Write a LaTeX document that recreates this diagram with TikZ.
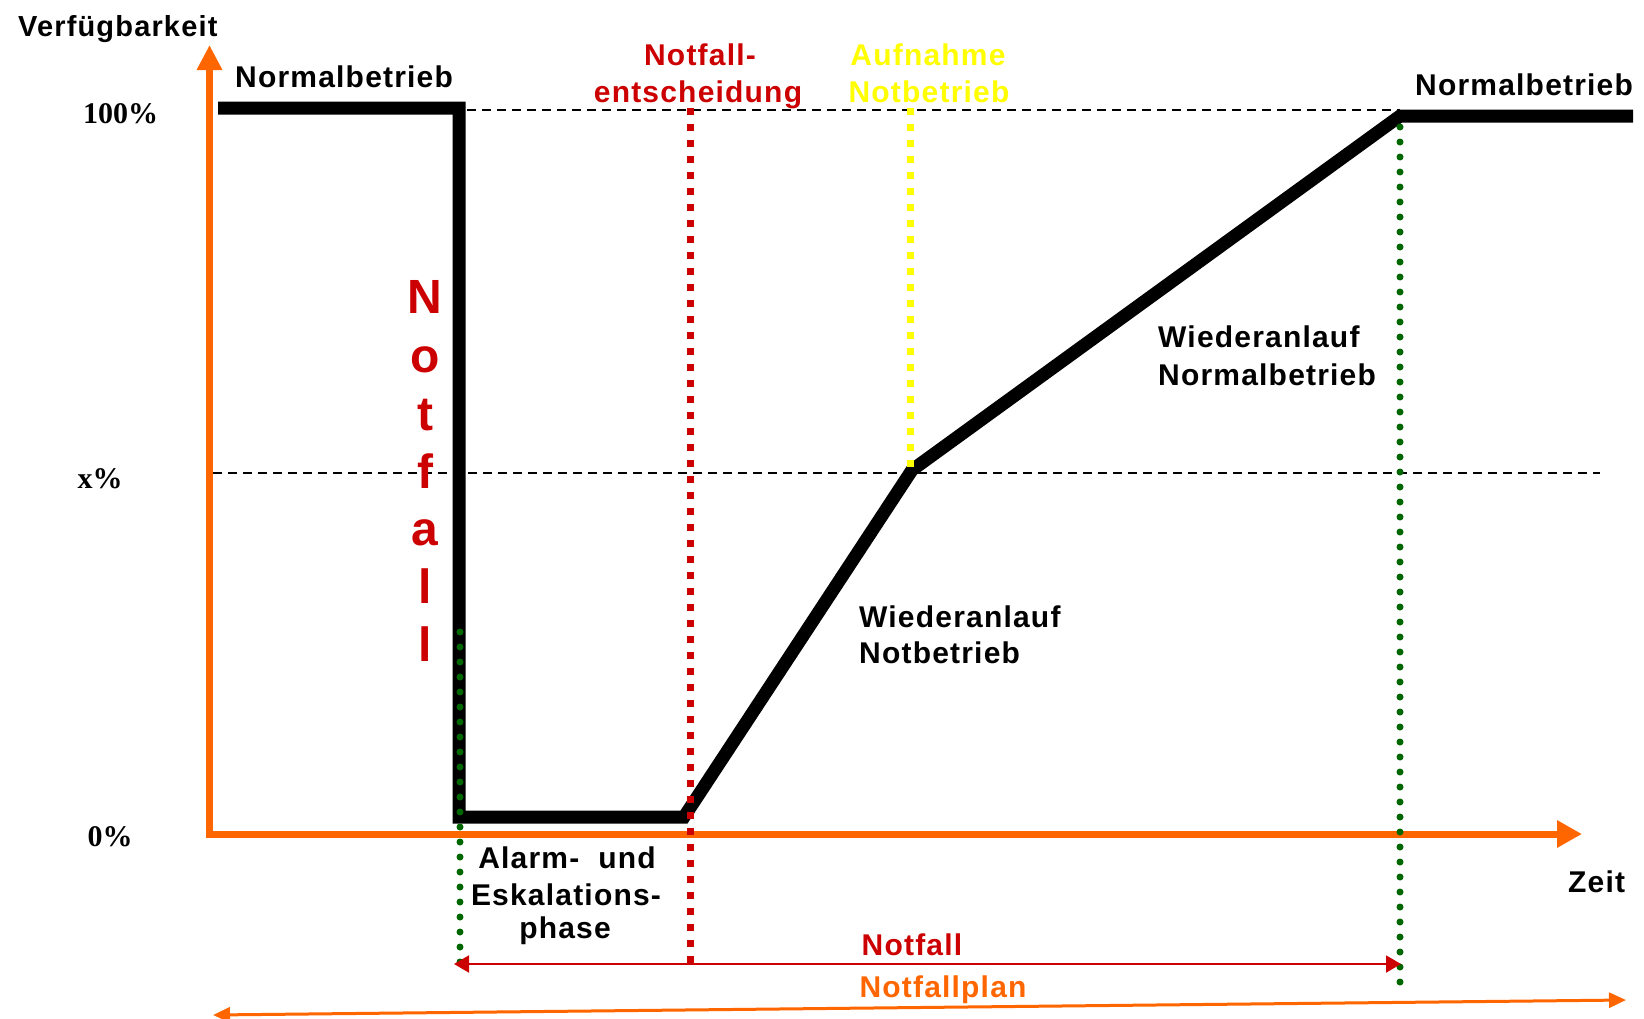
\documentclass[tikz,border=0pt]{standalone}
\usepackage{fontspec}
\newfontfamily\lab{Liberation Sans}[LetterSpace=4]
\newfontfamily\numf{Liberation Serif}
\usetikzlibrary{arrows.meta}
\definecolor{aorange}{HTML}{FF6600}
\definecolor{ared}{HTML}{CC0000}
\definecolor{agreen}{HTML}{006600}
\definecolor{ayellow}{HTML}{FFFF00}
\begin{document}
\begin{tikzpicture}[x=1pt,y=-1pt,
  lbl/.style={inner sep=0pt, font=\lab\bfseries\fontsize{30}{36}\selectfont},
  numlbl/.style={inner sep=0pt, anchor=base, font=\numf\bfseries\fontsize{30}{36}\selectfont},
  vlet/.style={inner sep=0pt, anchor=base, text=ared, font=\lab\bfseries\fontsize{48}{56}\selectfont},
  axis/.style={aorange, line width=7pt},
  guide/.style={black, line width=1.5pt, dash pattern=on 9pt off 6pt},
  curve/.style={black, line width=13pt, line join=miter},
  sqdots/.style={line width=7pt, dash pattern=on 7pt off 9pt},
  rdots/.style={agreen, line width=7pt, line cap=round, dash pattern=on 0pt off 15pt},
 ]
\useasboundingbox (0,0) rectangle (1644,1018);
% axes
\coordinate (Ob) at (209.5,837.5);
\coordinate (Ol) at (206,834);
\coordinate (Ytop) at (209.5,45);
\coordinate (Xend) at (1582,834);
\draw[axis, -{Triangle[length=25pt,width=24pt]}] (Ob) -- (Ytop);
\draw[axis, -{Triangle[length=25pt,width=26pt]}] (Ol) -- (Xend);
% guide lines
\coordinate (g1a) at (452,110);
\coordinate (g1b) at (1400,110);
\coordinate (g2a) at (213,473);
\coordinate (g2b) at (1600,473);
\draw[guide] (g1a) -- (g1b);
\draw[guide] (g2a) -- (g2b);
% availability curve
\coordinate (p1) at (218,108);
\coordinate (p2) at (459,108);
\coordinate (p3) at (459,817);
\coordinate (p4) at (684,817);
\coordinate (p5) at (912,470);
\coordinate (p6) at (1400,116);
\coordinate (p7) at (1633,116);
\draw[curve] (p1) -- (p2) -- (p3) -- (p4) -- (p5) -- (p6) -- (p7);
% dotted markers
\coordinate (r1) at (690,108);
\coordinate (r2) at (690,965);
\coordinate (y1) at (910,108);
\coordinate (y2) at (910,468);
\coordinate (gl1) at (460,632);
\coordinate (gl2) at (460,968);
\coordinate (gr1) at (1400,127);
\coordinate (gr2) at (1400,991);
\draw[sqdots, ared] (r1) -- (r2);
\draw[sqdots, ayellow] (y1) -- (y2);
\draw[rdots] (gl1) -- (gl2);
\draw[rdots] (gr1) -- (gr2);
% span arrows
\coordinate (na) at (454,964);
\coordinate (nb) at (1401,964);
\coordinate (pa) at (213,1015);
\coordinate (pb) at (1626,1000);
\draw[ared, line width=2pt, {Triangle[length=15pt,width=17pt]}-{Triangle[length=15pt,width=17pt]}] (na) -- (nb);
\draw[aorange, line width=3pt, {Triangle[length=17pt,width=15pt]}-{Triangle[length=17pt,width=15pt]}] (pa) -- (pb);
% labels
\node[lbl, anchor=base west, font=\lab\bfseries\fontsize{29}{35}\selectfont] (verf) at (18,36) {Verfügbarkeit};
\node[lbl, anchor=base west] (nb1) at (235,87) {Normalbetrieb};
\node[lbl, anchor=base west] (nb2) at (1415,95) {Normalbetrieb};
\node[numlbl] (h100) at (120.5,123) {100\%};
\node[numlbl] (hx) at (100,488) {x\%};
\node[numlbl] (h0) at (110,846) {0\%};
\node[lbl, anchor=base, text=ared] (ne1) at (700,65) {Notfall-};
\node[lbl, anchor=base, text=ared] (ne2) at (698,102) {entscheidung};
\node[lbl, anchor=base, text=ayellow] (an1) at (928,65) {Aufnahme};
\node[lbl, anchor=base, text=ayellow] (an2) at (929,102) {Notbetrieb};
\node[lbl, anchor=base west] (wn1) at (1158,347) {Wiederanlauf};
\node[lbl, anchor=base west] (wn2) at (1158,385) {Normalbetrieb};
\node[lbl, anchor=base west] (wb1) at (859,627) {Wiederanlauf};
\node[lbl, anchor=base west] (wb2) at (859,663) {Notbetrieb};
\node[lbl, anchor=base] (ae1) at (567,868) {Alarm-\ \ und};
\node[lbl, anchor=base] (ae2) at (566,905) {Eskalations-};
\node[lbl, anchor=base] (ae3) at (565,938) {phase};
\node[lbl, anchor=base, text=ared] (nf) at (912,955) {Notfall};
\node[lbl, anchor=base, text=aorange] (nfp) at (943,997) {Notfallplan};
\node[lbl, anchor=base west] (zeit) at (1568,892) {Zeit};
\foreach \l/\yy [count=\i] in {N/313,o/372,t/430,f/488,a/545,l/603,l/661}
  \node[vlet] (v\i) at (425,\yy) {\l};
\end{tikzpicture}
\end{document}
